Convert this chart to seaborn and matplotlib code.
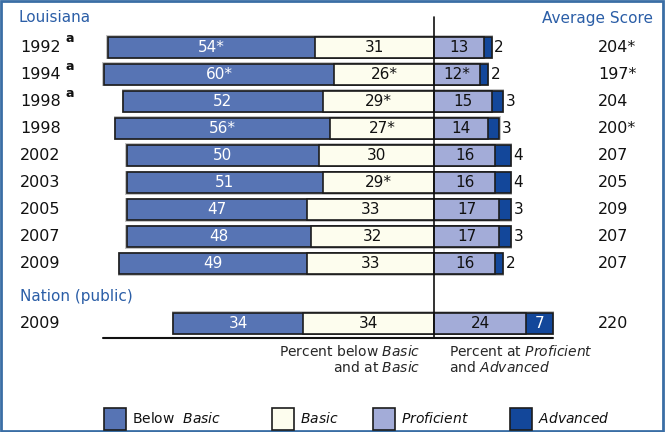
import numpy as np
import pandas as pd
import matplotlib.pyplot as plt
import seaborn as sns
from matplotlib.patches import Patch, Rectangle

# Louisiana rows (top to bottom)
years = ["1992", "1994", "1998", "1998", "2002", "2003", "2005", "2007", "2009"]
accom_note = [True, True, True, False, False, False, False, False, False]
below_basic = [54, 60, 52, 56, 50, 51, 47, 48, 49]
basic = [31, 26, 29, 27, 30, 29, 33, 32, 33]
proficient = [13, 12, 15, 14, 16, 16, 17, 17, 16]
advanced = [2, 2, 3, 3, 4, 4, 3, 3, 2]
avg_score = [204, 197, 204, 200, 207, 205, 209, 207, 207]
below_star = [True, True, False, True, False, False, False, False, False]
basic_star = [False, True, True, True, False, True, False, False, False]
prof_star = [False, True, False, False, False, False, False, False, False]
score_star = [True, True, False, True, False, False, False, False, False]

# Nation (public)
nation_year = "2009"
nation_vals = [34, 34, 24, 7]
nation_score = 220

level_names = [r"Below  $\it{Basic}$", r"$\it{Basic}$", r"$\it{Proficient}$", r"$\it{Advanced}$"]

C_BELOW = "#5774b4"
C_BASIC = "#fdfdee"
C_PROF = "#a3acd8"
C_ADV = "#13479a"
EDGE = "#1c1c1c"
BLUE_TXT = "#2b5ea7"

sns.set_theme(style="white")
plt.rcParams["font.family"] = "DejaVu Sans"
plt.rcParams["mathtext.fontset"] = "dejavusans"

# layout: pixel rows, 3.84 px per percentage point, divider at x=434 px
row_y = [47 + 27.1 * i for i in range(len(years))]
nation_y = 323
PX = 3.84

df = pd.DataFrame({
    "y": row_y + [nation_y],
    "below": below_basic + [nation_vals[0]],
    "basic": basic + [nation_vals[1]],
    "prof": proficient + [nation_vals[2]],
    "adv": advanced + [nation_vals[3]],
})
df["left_total"] = -(df["below"] + df["basic"])
df["neg_basic"] = -df["basic"]
df["right_total"] = df["prof"] + df["adv"]

fig = plt.figure(figsize=(6.65, 4.32), dpi=100)
ax = fig.add_axes([0, 0, 1, 1])
ax.set_xlim(-434 / PX, (665 - 434) / PX)

w = 21 / 27.1
# soft grey halo behind each bar
for i in range(len(df)):
    r = df.iloc[i]
    ax.add_patch(Rectangle((r["left_total"] - 0.35, r["y"] - 12),
                           r["right_total"] - r["left_total"] + 0.7, 24,
                           facecolor="#c4c4c4", edgecolor="none", zorder=0.5))

kw = dict(y="y", orient="y", native_scale=True, width=w, errorbar=None,
          edgecolor=EDGE, linewidth=1.2, saturation=1, ax=ax)
sns.barplot(data=df, x="left_total", color=C_BELOW, **kw)
sns.barplot(data=df, x="neg_basic", color=C_BASIC, **kw)
sns.barplot(data=df, x="right_total", color=C_ADV, **kw)
sns.barplot(data=df, x="prof", color=C_PROF, **kw)

ax.set_ylim(432, 0)
ax.set_axis_off()

fs = 11
# segment labels
for i in range(len(df)):
    r = df.iloc[i]
    below_v, basic_v, prof_v, adv_v = (int(r["below"]), int(r["basic"]),
                                       int(r["prof"]), int(r["adv"]))
    lou = i < len(years)
    b_lbl = f"{below_v}" + ("*" if lou and below_star[i] else "")
    s_lbl = f"{basic_v}" + ("*" if lou and basic_star[i] else "")
    p_lbl = f"{prof_v}" + ("*" if lou and prof_star[i] else "")
    ax.text(-basic_v - below_v / 2, r["y"], b_lbl, ha="center", va="center",
            color="white", fontsize=fs)
    ax.text(-basic_v / 2, r["y"], s_lbl, ha="center", va="center",
            color="#111111", fontsize=fs)
    ax.text(prof_v / 2, r["y"], p_lbl, ha="center", va="center",
            color="#111111", fontsize=fs)
    if adv_v < 5:
        ax.text(prof_v + adv_v + 0.7, r["y"], f"{adv_v}", ha="left", va="center",
                color="#111111", fontsize=fs)
    else:
        ax.text(prof_v + adv_v / 2, r["y"], f"{adv_v}", ha="center",
                va="center", color="white", fontsize=fs)

# year labels and scores
x_year = -414 / PX
x_score = (598 - 434) / PX
for i, yr in enumerate(years):
    ax.text(x_year, row_y[i], yr, ha="left", va="center", fontsize=11.5, color="#111111")
    if accom_note[i]:
        ax.text(x_year + 45 / PX, row_y[i] - 8, "a", ha="left", va="center",
                fontsize=9, fontweight="bold", color="#111111")
    ax.text(x_score, row_y[i], f"{avg_score[i]}" + ("*" if score_star[i] else ""),
            ha="left", va="center", fontsize=11.5, color="#111111")
ax.text(x_year, nation_y, nation_year, ha="left", va="center", fontsize=11.5, color="#111111")
ax.text(x_score, nation_y, f"{nation_score}", ha="left", va="center", fontsize=11.5,
        color="#111111")

ax.text(-416 / PX, 18, "Louisiana", ha="left", va="center", fontsize=11, color=BLUE_TXT)
ax.text((653 - 434) / PX, 18, "Average Score", ha="right", va="center", fontsize=11,
        color=BLUE_TXT)
ax.text(x_year, 297, "Nation (public)", ha="left", va="center", fontsize=11, color=BLUE_TXT)

# divider and baseline
ax.plot([0, 0], [17, 338], color="#111111", lw=1.2, zorder=5)
ax.plot([(103 - 434) / PX, (553 - 434) / PX], [338, 338], color="#111111", lw=1.5)

cap = 10
ax.text(-14 / PX, 352, r"Percent below $\it{Basic}$", ha="right", va="center", fontsize=cap)
ax.text(-14 / PX, 367, r"and at $\it{Basic}$", ha="right", va="center", fontsize=cap)
ax.text(15 / PX, 352, r"Percent at $\it{Proficient}$", ha="left", va="center", fontsize=cap)
ax.text(15 / PX, 367, r"and $\it{Advanced}$", ha="left", va="center", fontsize=cap)

# legend: one entry per swatch, placed like the reference
legend_x = [104, 272, 373, 510]
for c, name, lx in zip([C_BELOW, C_BASIC, C_PROF, C_ADV], level_names, legend_x):
    h = Patch(facecolor=c, edgecolor=EDGE, linewidth=1.2)
    fig.legend([h], [name], loc="center left",
               bbox_to_anchor=(lx / 665, 1 - 419 / 432),
               frameon=False, fontsize=cap, handlelength=1.55,
               handleheight=2.1, handletextpad=0.5,
               borderaxespad=0, borderpad=0, labelcolor="#111111")

fig.patches.append(Rectangle((0.002, 0.003), 0.995, 0.994, transform=fig.transFigure,
                             fill=False, edgecolor="#3a6ea5", linewidth=2))

fig.savefig("out.png", dpi=100)
